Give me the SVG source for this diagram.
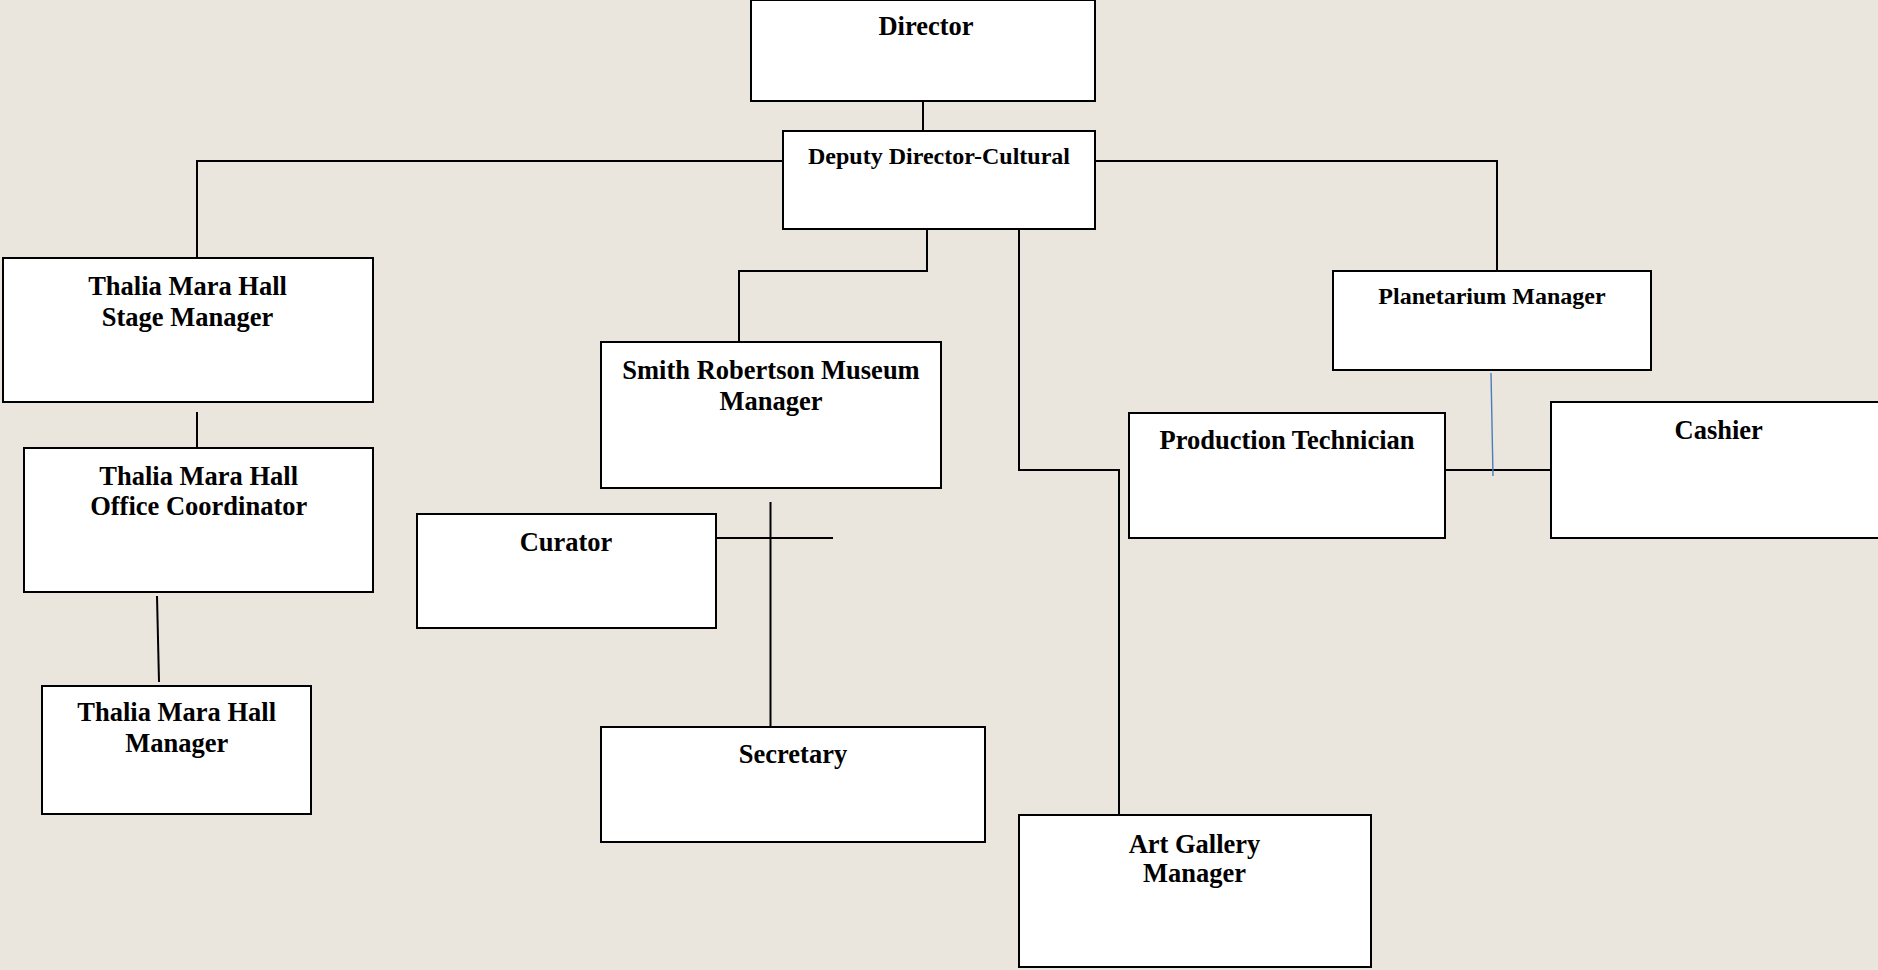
<svg xmlns="http://www.w3.org/2000/svg" width="1878" height="970" viewBox="0 0 1878 970">
<style>
.box{fill:#ffffff;stroke:#000000;stroke-width:2}
.ln{fill:none;stroke:#000000;stroke-width:2}
.t{font-family:"Liberation Serif","Times New Roman",serif;font-weight:bold;font-size:26.5px;fill:#000000;text-anchor:middle}
.s{font-size:24px}
</style>
<rect x="0" y="0" width="1878" height="970" fill="#EAE6DD"/>
<g id="connectors">
<path class="ln" d="M923 101V131"/>
<path class="ln" d="M783 161H197V258"/>
<path class="ln" d="M1095 161H1497V271"/>
<path class="ln" d="M927 229V271H739V342"/>
<path class="ln" d="M1019 229V470H1119V815"/>
<path class="ln" d="M197 412V448"/>
<path class="ln" d="M157 596L159 682"/>
<path class="ln" d="M770.5 502V727"/>
<path class="ln" d="M716 538H833"/>
<path class="ln" d="M1445 470H1551"/>
<path fill="none" stroke="#4A7EBB" stroke-width="1.4" d="M1491 373L1493 476"/>
</g>
<g id="director">
<rect class="box" x="751" y="0" width="344" height="101"/>
<text class="t" x="926" y="35">Director</text>
</g>
<g id="deputy">
<rect class="box" x="783" y="131" width="312" height="98"/>
<text class="t s" x="939" y="164">Deputy Director-Cultural</text>
</g>
<g id="stage-manager">
<rect class="box" x="3" y="258" width="370" height="144"/>
<text class="t" x="187.5" y="295">Thalia Mara Hall</text>
<text class="t" x="187.5" y="326">Stage Manager</text>
</g>
<g id="office-coordinator">
<rect class="box" x="24" y="448" width="349" height="144"/>
<text class="t" x="198.7" y="485">Thalia Mara Hall</text>
<text class="t" x="198.7" y="515">Office Coordinator</text>
</g>
<g id="hall-manager">
<rect class="box" x="42" y="686" width="269" height="128"/>
<text class="t" x="176.7" y="721">Thalia Mara Hall</text>
<text class="t" x="176.7" y="752">Manager</text>
</g>
<g id="smith-robertson">
<rect class="box" x="601" y="342" width="340" height="146"/>
<text class="t" x="771" y="379">Smith Robertson Museum</text>
<text class="t" x="771" y="409.5">Manager</text>
</g>
<g id="curator">
<rect class="box" x="417" y="514" width="299" height="114"/>
<text class="t" x="566" y="551">Curator</text>
</g>
<g id="secretary">
<rect class="box" x="601" y="727" width="384" height="115"/>
<text class="t" x="793" y="763">Secretary</text>
</g>
<g id="planetarium">
<rect class="box" x="1333" y="271" width="318" height="99"/>
<text class="t s" x="1492" y="304">Planetarium Manager</text>
</g>
<g id="production-technician">
<rect class="box" x="1129" y="413" width="316" height="125"/>
<text class="t" x="1287" y="448.5">Production Technician</text>
</g>
<g id="cashier">
<rect class="box" x="1551" y="402" width="340" height="136"/>
<text class="t" x="1718.7" y="438.5">Cashier</text>
</g>
<g id="art-gallery">
<rect class="box" x="1019" y="815" width="352" height="152"/>
<text class="t" x="1194.5" y="852.5">Art Gallery</text>
<text class="t" x="1194.5" y="882">Manager</text>
</g>
</svg>
